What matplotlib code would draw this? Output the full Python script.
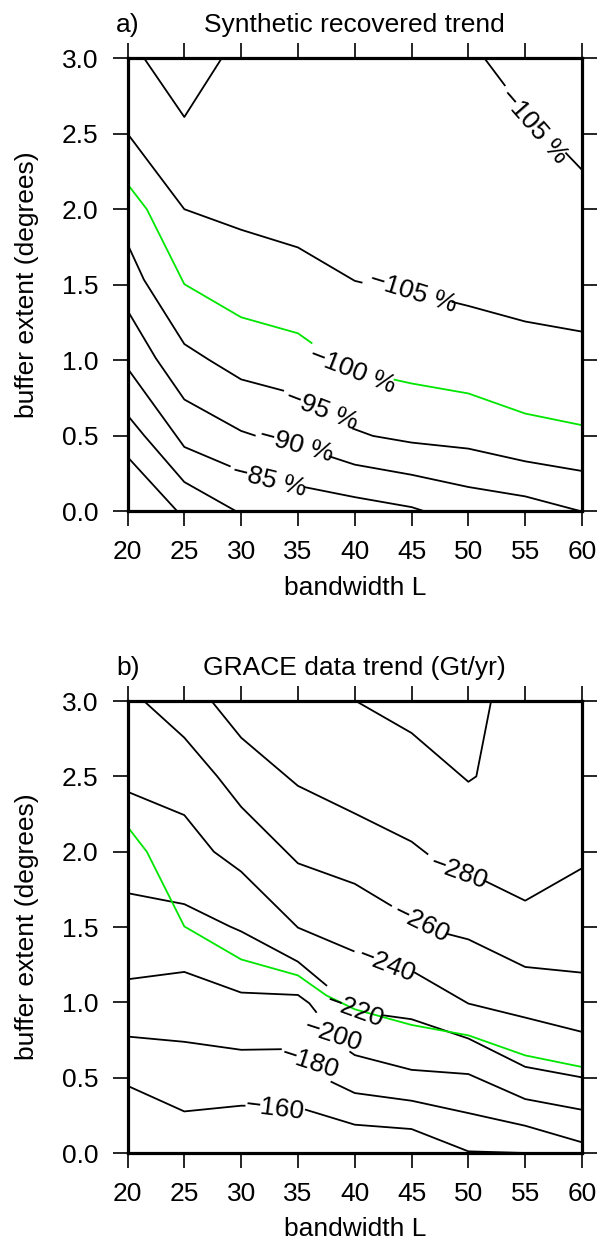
import matplotlib
matplotlib.use("Agg")
import numpy as np
import matplotlib.pyplot as plt

plt.rcParams['font.family'] = ['Liberation Sans', 'DejaVu Sans']

nan = np.nan

# bandwidth L ticks / buffer extent ticks
L_ticks = [20, 25, 30, 35, 40, 45, 50, 55, 60]
buf_ticks = [0.0, 0.5, 1.0, 1.5, 2.0, 2.5, 3.0]

# ---- panel a: synthetic recovered trend (%), contour traces
a_top_x = [21.45, 25, 28.3]
a_top_y = [3.0, 2.61, 3.0]
a_105r_x = [51.4, 53.2, nan, 58.6, 60]
a_105r_y = [3.0, 2.82, nan, 2.37, 2.26]
a_105_x = [20, 25, 30, 35, 40, 40.6, nan, 48.6, 50, 55, 60]
a_105_y = [2.5, 2.0, 1.864, 1.747, 1.526, 1.515, nan, 1.386, 1.36, 1.257, 1.19]
a_95_x = [20, 21.45, 25, 27.2, 30, 33.7, nan, 39.85, 41.6, 45, 50, 55, 60]
a_95_y = [1.769, 1.533, 1.108, 1.002, 0.874, 0.80, nan, 0.548, 0.5, 0.456, 0.416, 0.332, 0.268]
a_90_x = [20, 22.5, 25, 30, 31.2, nan, 37.8, 40, 45, 50, 55, 60]
a_90_y = [1.33, 1.013, 0.741, 0.533, 0.503, nan, 0.364, 0.310, 0.243, 0.162, 0.100, 0.0]
a_85_x = [20, 25, 29, nan, 35.6, 40, 45, 46.2]
a_85_y = [0.947, 0.427, 0.30, nan, 0.161, 0.095, 0.029, 0.0]
a_80_x = [20, 21.45, 25, 29.6]
a_80_y = [0.637, 0.504, 0.195, 0.0]
a_75_x = [20, 24.4]
a_75_y = [0.361, 0.0]

# 100 % line (green), with gap for its label in panel a
green_a_x = [20, 21.7, 25, 30, 35, 36.2, nan, 43.5, 45, 50, 55, 60]
green_a_y = [2.166, 2.0, 1.504, 1.285, 1.179, 1.115, nan, 0.872, 0.847, 0.781, 0.648, 0.571]
green_x = [20, 21.7, 25, 30, 35, 37.5, 40, 45, 50, 55, 60]
green_y = [2.166, 2.0, 1.504, 1.285, 1.179, 1.046, 0.954, 0.85, 0.781, 0.648, 0.571]

a_labels = ["\u2212105 %", "\u2212105 %", "\u2212100 %", "\u221295 %", "\u221290 %", "\u221285 %"]
a_lab_x = [55.8, 45.1, 39.85, 37.1, 34.9, 32.5]
a_lab_y = [2.545, 1.452, 0.934, 0.669, 0.437, 0.205]
a_lab_rot = [-49, -17, -21, -21, -15, -14]

# ---- panel b: GRACE data trend (Gt/yr)
b_v_x = [40.1, 45, 50, 50.7, 52.0]
b_v_y = [3.0, 2.788, 2.464, 2.50, 3.0]
b_280_x = [27.4, 30, 35, 40, 45, 46.4, nan, 51.4, 55, 60]
b_280_y = [3.0, 2.757, 2.437, 2.254, 2.067, 1.985, nan, 1.808, 1.675, 1.89]
b_260_x = [21.45, 25, 27.9, 30, 35, 40, 43.2, nan, 48.1, 50, 55, 60]
b_260_y = [3.0, 2.757, 2.5, 2.298, 1.923, 1.787, 1.642, nan, 1.455, 1.418, 1.235, 1.197]
b_240_x = [20, 25, 27.6, 30, 35, 39.9, nan, 45.3, 50, 55, 60]
b_240_y = [2.398, 2.243, 2.0, 1.868, 1.496, 1.34, nan, 1.197, 0.992, 0.899, 0.804]
b_220_x = [20, 25, 29, 30, 35, 37.5, nan, 42.5, 45, 50, 55, 60]
b_220_y = [1.725, 1.652, 1.504, 1.471, 1.27, 1.113, nan, 0.914, 0.888, 0.76, 0.572, 0.502]
b_200_x = [20, 25, 30, 35, 36, 36.6, nan, 39.6, 40, 45, 50, 55, 60]
b_200_y = [1.153, 1.202, 1.065, 1.049, 0.994, 0.936, nan, 0.671, 0.650, 0.552, 0.524, 0.358, 0.287]
b_180_x = [20, 25, 30, 33.5, nan, 37.95, 40, 45, 50, 55, 60]
b_180_y = [0.773, 0.738, 0.685, 0.689, nan, 0.472, 0.398, 0.347, 0.265, 0.181, 0.071]
b_160_x = [20, 25, 30, 30.3, nan, 35.7, 40, 45, 50, 55]
b_160_y = [0.446, 0.276, 0.314, 0.314, nan, 0.287, 0.188, 0.159, 0.011, 0.0]

b_labels = ["\u2212280", "\u2212260", "\u2212240", "\u2212220", "\u2212200", "\u2212180", "\u2212160"]
b_lab_x = [49.2, 45.9, 42.8, 40.0, 38.1, 36.05, 33.0]
b_lab_y = [1.863, 1.521, 1.245, 0.947, 0.78, 0.601, 0.292]
b_lab_rot = [-20, -26, -21, -20, -18, -18, -7]

FS = 19
LW = 1.3
GREEN = "#00e600"


def setup(ax, letter, title):
    ax.set_xlim(20, 60)
    ax.set_ylim(0, 3)
    ax.set_xticks(L_ticks)
    ax.set_yticks(buf_ticks)
    ax.set_yticklabels([f"{v:.1f}" for v in buf_ticks])
    ax.tick_params(direction='out', length=10.8, width=1.2, top=True, right=True,
                   labelsize=FS, pad=10)
    for s in ax.spines.values():
        s.set_linewidth(2.3)
        s.set_zorder(5)
    ax.text(-0.025, 1.057, letter, transform=ax.transAxes, fontsize=FS,
            ha='left', va='baseline')
    ax.text(0.5, 1.057, title, transform=ax.transAxes, fontsize=FS,
            ha='center', va='baseline')
    ax.text(0.5, -0.168, "bandwidth L", transform=ax.transAxes, fontsize=FS,
            ha='center', va='center')
    ax.text(-0.222, 0.5, "buffer extent (degrees)", transform=ax.transAxes,
            fontsize=FS, rotation=90, ha='center', va='center')


fig = plt.figure(figsize=(6, 12.43), dpi=100)
ax_a = fig.add_axes([0.2125, 0.5885, 0.7575, 0.3648])
ax_b = fig.add_axes([0.2125, 0.0724, 0.7575, 0.3636])

# panel a
for xs, ys in [(a_top_x, a_top_y), (a_105r_x, a_105r_y), (a_105_x, a_105_y),
               (a_95_x, a_95_y), (a_90_x, a_90_y), (a_85_x, a_85_y),
               (a_80_x, a_80_y), (a_75_x, a_75_y)]:
    ax_a.plot(xs, ys, color='black', lw=LW)
ax_a.plot(green_a_x, green_a_y, color=GREEN, lw=LW)
for s, x, y, r in zip(a_labels, a_lab_x, a_lab_y, a_lab_rot):
    ax_a.text(x, y, s, rotation=r, rotation_mode='anchor', ha='center',
              va='center', fontsize=FS)
setup(ax_a, "a)", "Synthetic recovered trend")

# panel b
for xs, ys in [(b_v_x, b_v_y), (b_280_x, b_280_y), (b_260_x, b_260_y),
               (b_240_x, b_240_y), (b_220_x, b_220_y), (b_200_x, b_200_y),
               (b_180_x, b_180_y), (b_160_x, b_160_y)]:
    ax_b.plot(xs, ys, color='black', lw=LW)
ax_b.plot(green_x, green_y, color=GREEN, lw=LW)
for s, x, y, r in zip(b_labels, b_lab_x, b_lab_y, b_lab_rot):
    ax_b.text(x, y, s, rotation=r, rotation_mode='anchor', ha='center',
              va='center', fontsize=FS)
setup(ax_b, "b)", "GRACE data trend (Gt/yr)")

fig.savefig("out.png", dpi=100)
